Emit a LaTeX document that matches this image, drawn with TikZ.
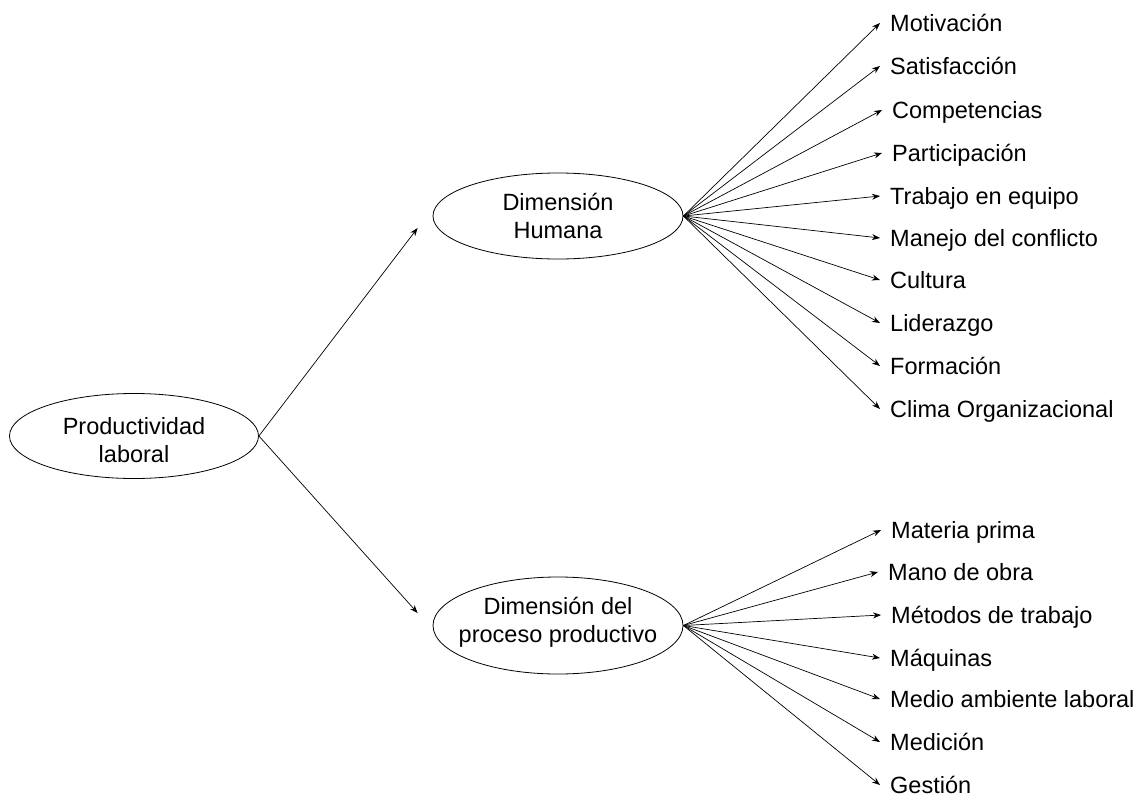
\documentclass[tikz,border=0pt]{standalone}
\usepackage{fontspec}
\setmainfont{Liberation Sans}
\usetikzlibrary{shapes.geometric,arrows.meta}
\begin{document}
\begin{tikzpicture}[x=1pt,y=-1pt,
  every node/.style={font=\fontsize{23.5}{27.5}\selectfont},
  dim/.style={draw,line width=0.8pt,ellipse,minimum width=250pt,inner sep=0pt},
  dimtext/.style={align=center,inner sep=0pt},
  leaf/.style={anchor=west,inner xsep=10pt,inner ysep=0pt,text height=17pt,text depth=0pt},
  arr/.style={line width=0.7pt,-{Stealth[length=8pt,width=6pt]}}]
\useasboundingbox (0,0) rectangle (1139,797);

% main ellipses, text set on top of each outline
\node[dim,minimum width=249pt,minimum height=85pt,
  label={[dimtext,yshift=-4pt]center:Productividad\\laboral}] (prod) at (134,436) {};
\node[dim,minimum height=86pt,
  label={[dimtext]center:Dimensión\\Humana}] (hum) at (558,216) {};
\node[dim,minimum height=97pt,
  label={[dimtext,yshift=3pt]center:Dimensión del\\proceso productivo}] (proc) at (558,625.5) {};

\draw[arr] (prod.east) -- ([xshift=-15pt,yshift=-12pt]hum.west);
\draw[arr] (prod.east) -- ([xshift=-15pt,yshift=12.5pt]proc.west);

% human dimension
\node[leaf] (h1) at (880,23) {Motivación};
\node[leaf] (h2) at (880,66) {Satisfacción};
\node[leaf] (h3) at (882,110) {Competencias};
\node[leaf] (h4) at (882,153) {Participación};
\node[leaf] (h5) at (880,196) {Trabajo en equipo};
\node[leaf] (h6) at (880,238) {Manejo del conflicto};
\node[leaf] (h7) at (880,280) {Cultura};
\node[leaf] (h8) at (880,323) {Liderazgo};
\node[leaf] (h9) at (880,366) {Formación};
\node[leaf] (h10) at (880,409) {Clima Organizacional};
\foreach \n in {h1,h2,h3,h4,h5,h6,h7,h8,h9,h10}
  \draw[arr] (hum.east) -- (\n.west);

% productive process dimension
\node[leaf] (p1) at (881,530) {Materia prima};
\node[leaf] (p2) at (878,572) {Mano de obra};
\node[leaf] (p3) at (881,615) {Métodos de trabajo};
\node[leaf] (p4) at (880,658) {Máquinas};
\node[leaf] (p5) at (880,699) {Medio ambiente laboral};
\node[leaf] (p6) at (880,742) {Medición};
\node[leaf] (p7) at (880,785) {Gestión};
\foreach \n in {p1,p2,p3,p4,p5,p6,p7}
  \draw[arr] (proc.east) -- (\n.west);
\end{tikzpicture}
\end{document}
